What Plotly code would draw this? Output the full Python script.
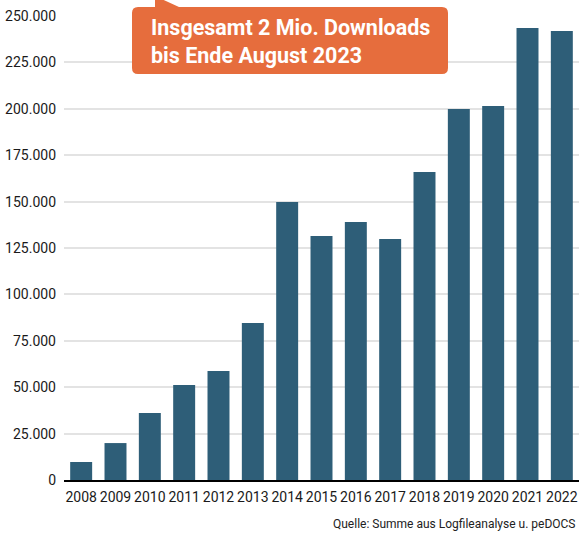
import plotly.graph_objects as go

years = ["2008", "2009", "2010", "2011", "2012", "2013", "2014", "2015",
         "2016", "2017", "2018", "2019", "2020", "2021", "2022"]
downloads = [9700, 19900, 36100, 51200, 58700, 84600, 149800, 131500,
             139000, 129800, 166000, 199900, 201500, 243500, 241900]
y_ticks = [0, 25000, 50000, 75000, 100000, 125000, 150000, 175000,
           200000, 225000, 250000]
callout = "Insgesamt 2 Mio. Downloads<br>bis Ende August 2023"
source = "Quelle: Summe aus Logfileanalyse u. peDOCS"

W, H = 579, 538
ML, MR, MT, MB = 64, 0, 16, 58
PW, PH = W - ML - MR, H - MT - MB

FONT = "Roboto, Liberation Sans, sans-serif"
BAR = "#2E5E78"
ORANGE = "#E66D3D"


def px(x):
    return (x - ML) / PW


def py(y):
    return (H - MB - y) / PH


fig = go.Figure(go.Bar(x=years, y=downloads, marker_color=BAR,
                       marker_line_width=0, width=0.64))

# rounded callout box with tail
x0, x1, y0, y1, r = 132, 448, 7, 74, 6
path = (f"M {px(x0 + r)},{py(y0)} "
        f"L {px(155)},{py(y0)} L {px(155)},{py(-4)} L {px(179)},{py(y0)} "
        f"L {px(x1 - r)},{py(y0)} Q {px(x1)},{py(y0)} {px(x1)},{py(y0 + r)} "
        f"L {px(x1)},{py(y1 - r)} Q {px(x1)},{py(y1)} {px(x1 - r)},{py(y1)} "
        f"L {px(x0 + r)},{py(y1)} Q {px(x0)},{py(y1)} {px(x0)},{py(y1 - r)} "
        f"L {px(x0)},{py(y0 + r)} Q {px(x0)},{py(y0)} {px(x0 + r)},{py(y0)} Z")
fig.add_shape(type="path", path=path, xref="paper", yref="paper",
              fillcolor=ORANGE, line_width=0, layer="above")

fig.add_annotation(text=callout, xref="paper", yref="paper",
                   x=px(149), y=py(41), xanchor="left", yanchor="middle",
                   align="left", showarrow=False,
                   font=dict(family=FONT, size=21.5, color="white", weight="bold"))

fig.add_annotation(text=source, xref="paper", yref="paper",
                   x=px(577), y=py(524), xanchor="right", yanchor="middle",
                   showarrow=False,
                   font=dict(family=FONT, size=12, color="#222222"))

fig.update_layout(
    width=W, height=H,
    margin=dict(l=ML, r=MR, t=MT, b=MB),
    paper_bgcolor="white", plot_bgcolor="white",
    separators=",.",
    showlegend=False,
    bargap=0.36,
    font=dict(family=FONT, size=14, color="#1a1a1a"),
    xaxis=dict(showline=True, linecolor="black", linewidth=2,
               ticks="", showgrid=False, tickfont=dict(size=14),
               tickangle=0, automargin=False, ticklabelstandoff=3),
    yaxis=dict(range=[0, 250000], tickvals=y_ticks, tickformat=",d",
               showgrid=True, gridcolor="#E3E3E3", gridwidth=1.5,
               zeroline=False, ticks="", tickfont=dict(size=14),
               ticklabelstandoff=7, automargin=False),
)

fig.write_html("out.html",
               config={"displayModeBar": False},
               post_script="document.body.style.margin='0';"
                           "document.body.style.overflow='hidden';")
